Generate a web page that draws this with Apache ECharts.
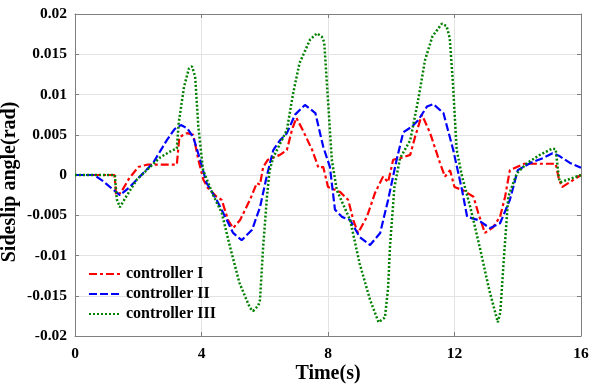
<!DOCTYPE html>
<html>
<head>
<meta charset="utf-8">
<script src="https://cdn.jsdelivr.net/npm/echarts@6/dist/echarts.min.js"></script>
<style>html,body{margin:0;padding:0;background:#fff}#c{width:595px;height:392px}</style>
</head>
<body>
<div id="c"></div>
<script>
// ---- data ----
const seriesNames = ['controller I', 'controller II', 'controller III'];
const xTicks = [0, 4, 8, 12, 16];
const yTicks = [-0.02, -0.015, -0.01, -0.005, 0, 0.005, 0.01, 0.015, 0.02];

const tI = [0, 1.25, 1.3, 1.45, 1.7, 2.0, 2.3, 3.22, 3.3, 3.54, 3.74, 3.9, 4.06, 4.2, 4.48, 4.64, 4.84, 5.0, 5.22, 5.53, 5.75, 5.85, 5.95, 6.1, 6.48, 6.7, 6.86, 7.0, 7.2, 7.5, 7.7, 7.85, 8.0, 8.38, 8.64, 8.8, 8.95, 9.23, 9.49, 9.74, 9.9, 10.06, 10.28, 10.6, 10.75, 10.97, 11.23, 11.54, 11.7, 11.86, 12.0, 12.27, 12.6, 12.75, 12.96, 13.22, 13.44, 13.6, 13.75, 14.2, 15.2, 15.3, 15.4, 16];
const vI = [0, 0, -0.0025, -0.0022, -0.0005, 0.0010, 0.0013, 0.0013, 0.0047, 0.0052, 0.0050, 0.0019, -0.0006, -0.0016, -0.0027, -0.0031, -0.0056, -0.0066, -0.0056, -0.0031, -0.0010, -0.0012, 0.0010, 0.0019, 0.0025, 0.0031, 0.0056, 0.0071, 0.0056, 0.0031, 0.0009, 0.0010, -0.0015, -0.0021, -0.0031, -0.0056, -0.0072, -0.0052, -0.0022, -0.0002, -0.0009, 0.0019, 0.0021, 0.0025, 0.0047, 0.0075, 0.0052, 0.0015, -0.0002, 0.0006, -0.0015, -0.0019, -0.0027, -0.0047, -0.0072, -0.0065, -0.0052, -0.0027, 0.0006, 0.0014, 0.0014, -0.0005, -0.0015, 0];

const tII = [0, 0.6, 0.9, 1.2, 1.42, 1.7, 1.95, 2.2, 2.47, 2.7, 2.9, 3.15, 3.35, 3.55, 3.74, 3.95, 4.16, 4.48, 4.8, 5.0, 5.27, 5.6, 5.85, 6.06, 6.27, 6.48, 6.7, 6.96, 7.27, 7.6, 7.85, 8.06, 8.22, 8.44, 8.7, 9.0, 9.33, 9.65, 9.9, 10.17, 10.38, 10.65, 10.85, 11.13, 11.33, 11.65, 11.96, 12.24, 12.4, 12.75, 13.12, 13.44, 13.75, 14.0, 14.4, 14.8, 15.1, 15.3, 15.65, 16];
const vII = [0, 0, -0.0008, -0.0018, -0.0025, -0.0016, -0.0006, 0.0004, 0.0015, 0.0030, 0.0043, 0.0057, 0.0062, 0.0058, 0.0047, 0.0020, -0.0010, -0.0031, -0.0056, -0.0072, -0.0081, -0.0068, -0.0040, -0.0002, 0.0031, 0.0043, 0.0052, 0.0075, 0.0087, 0.0077, 0.0035, 0.0010, -0.0043, -0.0052, -0.0056, -0.0077, -0.0087, -0.0072, -0.0031, 0.0019, 0.0053, 0.0060, 0.0068, 0.0085, 0.0088, 0.0077, 0.0031, -0.0019, -0.0052, -0.0056, -0.0066, -0.0060, -0.0031, 0.0006, 0.0015, 0.0021, 0.0027, 0.0024, 0.0015, 0.0009];

const tIII = [0, 1.26, 1.32, 1.42, 1.6, 1.95, 2.37, 2.7, 3.0, 3.22, 3.28, 3.45, 3.6, 3.7, 3.8, 3.9, 4.05, 4.37, 4.64, 4.9, 5.2, 5.53, 5.63, 5.8, 5.85, 5.95, 6.07, 6.15, 6.27, 6.5, 6.7, 6.9, 7.1, 7.43, 7.65, 7.8, 7.88, 8.0, 8.12, 8.28, 8.7, 9.0, 9.33, 9.6, 9.8, 9.9, 9.96, 10.1, 10.28, 10.6, 10.85, 11.07, 11.3, 11.6, 11.75, 11.85, 11.95, 12.07, 12.24, 12.5, 12.8, 13.1, 13.37, 13.45, 13.55, 13.7, 13.97, 14.3, 14.7, 15.1, 15.2, 15.3, 15.35, 16];
const vIII = [0, 0, -0.0030, -0.0040, -0.0028, -0.0006, 0.0010, 0.0022, 0.0029, 0.0033, 0.0065, 0.0110, 0.0132, 0.0135, 0.0122, 0.0060, 0.0006, -0.0025, -0.0047, -0.0089, -0.0134, -0.0165, -0.0169, -0.0162, -0.0155, -0.0089, -0.0027, 0.0005, 0.0022, 0.0040, 0.0056, 0.0102, 0.0139, 0.0168, 0.0176, 0.0172, 0.0165, 0.0093, 0.0019, -0.0019, -0.0056, -0.0110, -0.0155, -0.0183, -0.0177, -0.0140, -0.0089, -0.0015, 0.0021, 0.0043, 0.0093, 0.0143, 0.0172, 0.0188, 0.0185, 0.0170, 0.0114, 0.0031, -0.0002, -0.0040, -0.0090, -0.0143, -0.0183, -0.0170, -0.0110, -0.0027, 0.0002, 0.0015, 0.0025, 0.0033, 0.0032, -0.0004, -0.0009, 0];

// ---- chart ----
const zip = (t, v) => t.map((x, i) => [x, v[i]]);
const FONT = 'Liberation Serif';
const frame = '#7f7f7f';
const fmtY = v => String(parseFloat(Number(v).toFixed(3)));

const chart = echarts.init(document.getElementById('c'), null, {renderer: 'canvas'});
chart.setOption({
  animation: false,
  backgroundColor: '#fff',
  grid: {left: 75, right: 14, top: 14, bottom: 56, containLabel: false, outerBoundsMode: 'none'},
  legend: {
    orient: 'vertical', left: 88, top: 266, padding: 0,
    itemWidth: 32, itemHeight: 16, itemGap: 4,
    data: seriesNames,
    itemStyle: {opacity: 0},
    textStyle: {fontFamily: FONT, fontWeight: 'bold', fontSize: 16, color: '#000', lineHeight: 16}
  },
  xAxis: [{
    type: 'value', min: xTicks[0], max: xTicks[xTicks.length - 1], interval: 4,
    name: 'Time(s)', nameLocation: 'middle', nameGap: 28, nameMoveOverlap: false,
    nameTextStyle: {fontFamily: FONT, fontWeight: 'bold', fontSize: 20, color: '#000'},
    axisLine: {show: true, onZero: false, lineStyle: {color: frame, width: 1}},
    axisTick: {show: true, inside: true, length: 4, lineStyle: {color: frame}},
    axisLabel: {margin: 10, fontFamily: FONT, fontWeight: 'bold', fontSize: 15.5, color: '#000'},
    splitLine: {show: true, lineStyle: {color: '#e3e3e3', width: 1}}
  }, {
    type: 'value', position: 'top', min: xTicks[0], max: xTicks[xTicks.length - 1], interval: 4,
    axisLine: {show: true, onZero: false, lineStyle: {color: frame, width: 1}},
    axisTick: {show: true, inside: true, length: 4, lineStyle: {color: frame}},
    axisLabel: {show: false}, splitLine: {show: false}
  }],
  yAxis: [{
    type: 'value', min: yTicks[0], max: yTicks[yTicks.length - 1], interval: 0.005,
    name: 'Sideslip angle(rad)', nameLocation: 'middle', nameGap: 55, nameMoveOverlap: false,
    nameTextStyle: {fontFamily: FONT, fontWeight: 'bold', fontSize: 20, color: '#000', padding: [0, 14, 0, 0]},
    axisLine: {show: true, onZero: false, lineStyle: {color: frame, width: 1}},
    axisTick: {show: true, inside: true, length: 4, lineStyle: {color: frame}},
    axisLabel: {margin: 8, fontFamily: FONT, fontWeight: 'bold', fontSize: 15.5, color: '#000', formatter: fmtY},
    splitLine: {show: true, lineStyle: {color: '#e3e3e3', width: 1}}
  }, {
    type: 'value', position: 'right', min: yTicks[0], max: yTicks[yTicks.length - 1], interval: 0.005,
    axisLine: {show: true, onZero: false, lineStyle: {color: frame, width: 1}},
    axisTick: {show: true, inside: true, length: 4, lineStyle: {color: frame}},
    axisLabel: {show: false}, splitLine: {show: false}
  }],
  series: [
    {name: seriesNames[0], type: 'line', data: zip(tI, vI), symbol: 'none', z: 3,
     itemStyle: {color: '#ff0000'},
     lineStyle: {color: '#ff0000', width: 2.2, type: [8, 3, 3, 3]}},
    {name: seriesNames[1], type: 'line', data: zip(tII, vII), symbol: 'none', z: 4,
     itemStyle: {color: '#0000ff'},
     lineStyle: {color: '#0000ff', width: 2.2, type: [8, 3]}},
    {name: seriesNames[2], type: 'line', data: zip(tIII, vIII), symbol: 'none', z: 5,
     itemStyle: {color: '#008000'},
     lineStyle: {color: '#008000', width: 2.5, type: [2, 2]}}
  ]
});
</script>
</body>
</html>
